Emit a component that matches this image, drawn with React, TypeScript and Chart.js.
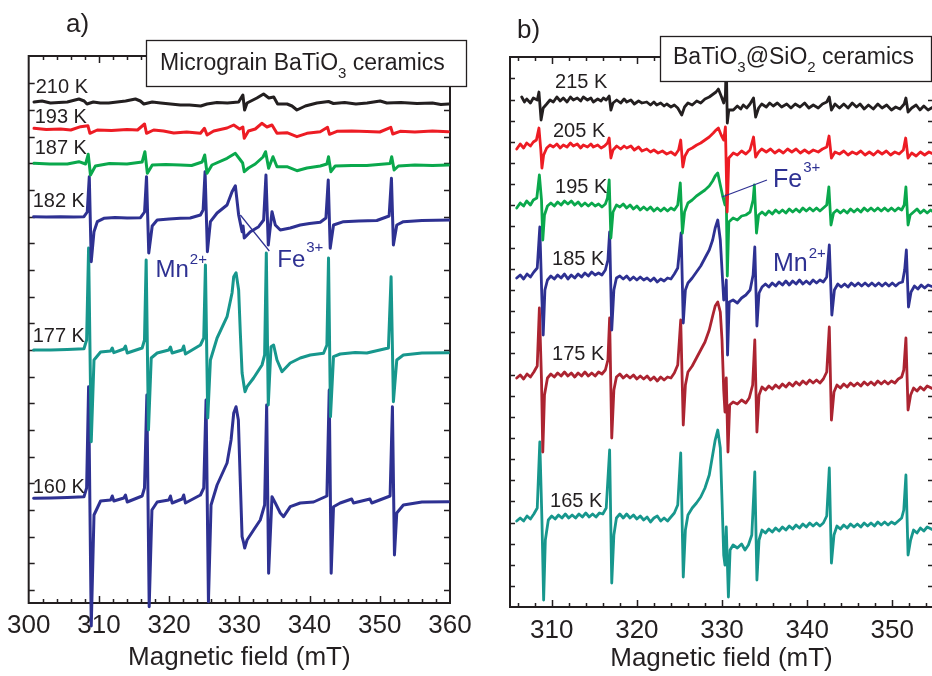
import React, { useEffect, useRef } from "react";
import { Chart, registerables } from "chart.js";

Chart.register(...registerables);

const FONT = '"Liberation Sans", Arial, Helvetica, sans-serif';
const INK = "#231f20";
const ION = "#2e3192";

// ---------------- Panel a) Micrograin BaTiO3 ceramics ----------------
const aXTicks = [300, 310, 320, 330, 340, 350, 360];
const aTemps = ["210 K", "193 K", "187 K", "182 K", "177 K", "160 K"];
const aColors = ["#231f20", "#ed1c24", "#0aa84c", "#2e3192", "#17978d", "#2e3192"];

// flat lists: field (mT), intensity (a.u., offset included)
const a210K = [300.76,501, 301.9,502, 303.1,500, 304.3,500.5, 305.5,501, 307.15,504, 307.9,502, 308.3,499, 309.2,501, 310.2,500, 311.4,500, 312.6,501, 313.8,502, 315.2,504, 315.9,502, 316.4,499, 317.6,501, 318.8,500, 320.2,499, 321.6,498, 322.9,498, 324.5,497, 325.4,499, 326.8,500.5, 328.3,500, 329.9,501, 330.5,508, 330.75,493, 331.1,500, 332.5,505, 333.45,509, 334.2,505, 334.9,506, 335.45,499, 336.8,499, 337.5,497, 338.2,493, 339.4,497, 341.05,500, 342.7,501.5, 343.4,499.5, 345,500.5, 346.6,499, 348.2,500, 350.05,502, 351.0,500, 353,500.5, 355.3,499.5, 357.5,500, 358.7,498.5, 359.8,499];
const a193K = [300.76,474.7, 302.5,473.5, 304.55,474, 306.0,473, 307.4,476.3, 308.43,477.3, 308.72,469.7, 309.77,473, 311.8,472.5, 314.0,473.5, 315.5,473, 316.5,479, 316.78,469.7, 317.8,473, 319.2,472, 320.66,470, 322.5,471, 324.46,469.7, 325.03,474.7, 325.4,468, 326.35,472, 328.25,475, 329.2,478, 330.04,474, 330.5,476, 330.7,464.7, 331.3,472, 332.27,474, 333.2,479.7, 333.93,476, 334.65,478, 335.36,469.7, 336.78,470.3, 338.2,466.3, 339.63,469.7, 341.52,471.3, 342.56,475.7, 342.84,468.7, 343.9,471.7, 346,472, 348.16,471.5, 350,471, 351.57,475.7, 351.85,469, 352.9,471.7, 355,471, 357.5,472, 359.76,471.3];
const a187K = [300.76,439.7, 303.0,439, 305.5,439, 307.15,441.3, 308.1,439, 308.48,448.7, 308.8,428, 309.5,437, 311.5,439.5, 314.0,439, 316.16,441, 316.55,451.3, 316.9,429.7, 317.6,438, 319.5,438.5, 321.6,438, 323.2,437.5, 324.7,441, 325.07,448, 325.4,429.7, 326.1,438, 328.25,444.7, 329.43,449.7, 330.15,443, 330.47,440, 330.7,431.3, 331.3,435, 332.27,439, 333.37,446, 333.74,451.3, 334.17,434.7, 334.79,446.3, 335.36,436.3, 336.78,436.3, 338.2,432.3, 339.63,435, 341.52,437, 342.47,439, 342.7,446.3, 343.04,431.3, 343.65,437, 346,437.5, 348.16,437.5, 351.47,439.5, 351.7,446.3, 352.04,433, 352.65,437, 355,438, 357.5,437.5, 359.76,438];
const a182K = [300.7,386.3, 302.5,386, 304.55,386.3, 306.44,386, 307.87,386.3, 308.34,391, 308.63,426.3, 308.91,341.3, 309.3,371.3, 309.77,381.3, 310.7,384.7, 312.3,385.5, 314.03,385, 315.92,385.3, 316.5,391, 316.78,426.3, 317.1,350, 317.59,377, 318.3,383, 320,384, 321.6,384.7, 323,385, 324.46,388, 324.84,393, 325.12,431.3, 325.45,351.3, 325.88,381.3, 326.83,390, 328.25,398, 328.96,411.3, 329.43,417.3, 329.9,388, 330.39,371.3, 330.53,377, 330.7,365, 331.57,371.3, 332.75,376.3, 333.46,383, 333.79,428, 334.12,358, 334.65,391.3, 335.12,378, 335.83,373, 337.25,375, 338.67,378, 340,379.5, 341.52,380.7, 342.33,385, 342.66,423, 342.94,354.7, 343.41,378, 344.83,381.3, 347,382, 349.58,382.5, 351.33,387, 351.66,424.7, 351.94,358, 352.42,378, 353.36,381.3, 356,382.5, 360,383];
const a177K = [300.7,253, 303.13,253, 305.5,253.5, 307.87,254.3, 308.25,263, 308.53,355, 308.91,161.3, 309.3,243, 310.24,251, 311.66,252, 311.9,255, 312.13,250.3, 313.55,254, 313.79,257, 314.03,250, 316.16,255, 316.49,263, 316.73,343, 317.06,173, 317.45,245, 318.3,250, 319.95,253, 320.19,256, 320.43,250, 321.85,253, 322.08,257, 322.32,249, 324.46,258, 324.93,265, 325.17,338, 325.5,185, 325.88,243, 326.83,265, 328.25,286.3, 328.96,310, 329.2,326.3, 329.53,330.3, 329.9,313, 330.14,270, 330.39,230, 330.67,217, 330.81,211.3, 331.1,216.3, 332.03,225, 333.23,238, 333.6,248, 333.84,350, 334.12,198, 334.51,256.3, 334.88,258, 335.36,243, 336.07,231.3, 337.25,240, 338.67,245, 340.1,248, 341.99,249.7, 342.47,258, 342.7,345, 342.98,186.3, 343.41,246.3, 344.36,249, 346.5,250.5, 348.16,250, 351.23,255, 351.61,326.3, 351.94,201.3, 352.42,243, 353.36,248, 356,250, 359.76,250.3];
const a160K = [300.7,104.7, 303.13,105, 305.5,105.5, 307.87,106.3, 308.25,115, 308.53,216.3, 308.91,-23, 309.3,88, 310.24,102, 311.66,103, 311.9,107, 312.13,102, 313.55,105, 313.79,108, 314.03,101, 316.16,107, 316.49,115, 316.83,208, 317.16,-3.7, 317.55,93, 318.3,101, 319.95,103, 320.19,107, 320.43,100, 321.85,104, 322.08,108, 322.32,100, 324.46,108, 324.93,115, 325.26,203, 325.6,1.3, 325.97,98, 326.83,118, 328.25,140, 328.82,163, 329.2,190, 329.53,196.3, 329.86,183, 330.14,120, 330.39,66.3, 330.62,60, 330.76,55, 331.1,63, 332.03,73, 332.98,83, 333.6,98, 333.89,198, 334.17,29.7, 334.65,106.3, 335.12,100, 335.83,90, 336.3,86.3, 337.25,96.3, 338.67,100, 340.57,101, 342.47,107, 342.8,213, 343.08,29.7, 343.41,96.3, 344.36,100, 346.0,104, 346.26,100, 348.6,104, 348.86,100, 351.47,107, 351.8,196.3, 352.09,48, 352.42,90, 353.36,98, 356,101, 359.76,101.3];

// ---------------- Panel b) BaTiO3@SiO2 ceramics ----------------
const bXTicks = [310, 320, 330, 340, 350];
const bTemps = ["215 K", "205 K", "195 K", "185 K", "175 K", "165 K"];
const bColors = ["#231f20", "#ed1c24", "#0aa84c", "#2e3192", "#ac2431", "#17978d"];

const b215K = [306.48,510, 306.8,505, 307.06,508, 307.5,504, 307.84,509, 308.31,507, 308.5,515, 308.75,487, 309.0,499, 309.41,503, 309.8,507, 310.19,505, 310.6,510, 311.0,506, 311.36,509, 311.8,505, 312.2,510, 312.54,507, 313.0,509, 313.4,506, 313.71,510, 314.2,507, 314.6,509, 314.89,505, 315.4,508, 315.8,506, 316.06,509, 316.4,507, 316.75,511, 316.95,497, 317.2,504, 317.63,507, 318.1,504, 318.5,508, 318.81,505, 319.3,507, 319.7,503, 320.2,506, 320.6,504, 321.16,505, 321.6,502, 322.0,505, 322.33,502, 322.8,504, 323.2,501, 323.51,503, 324.0,500, 324.4,502, 324.8,499, 325.27,492, 325.6,500, 326.0,504, 326.5,502, 327.03,506, 327.5,504, 328.0,508, 328.5,510, 328.98,513, 329.3,515, 329.57,518, 329.9,511, 330.2,504, 330.4,512, 330.5,547, 330.62,484, 330.8,497, 331.33,497, 331.8,501, 332.2,498, 332.5,502, 332.9,499, 333.29,503, 333.7,509, 333.95,490, 334.3,499, 334.66,503, 335.2,500, 335.6,504, 336.02,501, 336.5,504, 337.0,500, 337.6,503, 338.1,499, 338.6,503, 339.16,500, 339.7,504, 340.2,499, 340.72,502, 341.3,499, 341.8,503, 342.3,505, 342.6,510, 342.85,497, 343.27,503, 343.8,499, 344.3,503, 344.8,499, 345.3,504, 345.8,500, 346.21,503, 346.7,498, 347.2,502, 347.77,498, 348.3,503, 348.8,499, 349.34,502, 349.9,497, 350.4,500, 350.9,498, 351.4,503, 351.6,509, 351.85,495, 352.28,499, 352.8,502, 353.25,497, 353.7,501, 354.2,497, 354.8,500];
const b205K = [305.89,458, 306.3,463, 306.7,459, 307.06,464, 307.5,461, 307.84,465, 308.2,467, 308.5,479, 308.72,457, 308.85,439, 309.05,452, 309.41,459, 309.8,462, 310.19,460, 310.6,463, 311.0,459, 311.36,462, 311.8,460, 312.2,464, 312.54,461, 313.0,463, 313.4,459, 313.71,462, 314.2,460, 314.6,463, 314.89,460, 315.4,462, 315.8,459, 316.2,461, 316.55,464, 316.75,469, 316.95,449, 317.2,457, 317.63,461, 318.1,458, 318.5,461, 318.81,459, 319.3,461, 319.7,457, 320.2,460, 320.6,456, 321.16,458, 321.6,455, 322.0,457, 322.5,454, 323.0,456, 323.5,453, 324.0,455, 324.5,452, 324.9,457, 325.15,467, 325.4,440, 325.65,451, 326.04,457, 326.5,459, 327.03,462, 327.5,464, 328.0,467, 328.5,470, 328.98,474, 329.3,477, 329.57,479, 329.9,472, 330.2,467, 330.4,480, 330.6,395, 330.8,449, 331.33,454, 331.8,452, 332.3,456, 332.8,453, 333.29,457, 333.7,470, 333.95,450, 334.3,455, 334.66,458, 335.2,455, 335.7,458, 336.2,454, 336.7,457, 337.2,454, 337.7,458, 338.2,455, 338.7,458, 339.2,454, 339.7,457, 340.2,454, 340.72,457, 341.3,455, 341.8,458, 342.3,460, 342.57,471, 342.85,449, 343.27,455, 343.8,453, 344.3,456, 344.8,452, 345.3,455, 345.8,453, 346.3,456, 346.8,452, 347.3,455, 347.8,452, 348.3,456, 348.8,453, 349.3,456, 349.8,452, 350.3,455, 350.8,453, 351.3,457, 351.57,469, 351.85,449, 352.28,454, 352.8,451, 353.3,455, 353.8,452, 354.3,455, 354.8,453];
const b195K = [305.89,399, 306.3,404, 306.7,401, 307.06,406, 307.5,402, 307.84,407, 308.25,409, 308.55,432, 308.8,407, 308.95,367, 309.15,392, 309.5,401, 309.9,404, 310.3,401, 310.7,405, 311.1,402, 311.5,406, 311.9,403, 312.3,406, 312.7,402, 313.1,405, 313.5,401, 313.9,404, 314.3,401, 314.7,404, 315.1,401, 315.5,403, 315.9,400, 316.3,403, 316.55,409, 316.75,427, 316.95,369, 317.2,395, 317.6,402, 318.0,400, 318.4,403, 318.8,399, 319.2,402, 319.6,398, 320.0,401, 320.4,397, 320.8,400, 321.2,397, 321.6,400, 322.0,396, 322.4,399, 322.8,396, 323.2,399, 323.6,396, 324.0,399, 324.4,397, 324.8,402, 325.1,424, 325.35,374, 325.6,395, 326.0,404, 326.5,407, 327.0,411, 327.5,414, 328.0,417, 328.5,421, 328.9,426, 329.2,431, 329.5,434, 329.8,422, 330.1,410, 330.35,402, 330.5,412, 330.62,331, 330.8,385, 331.3,389, 331.8,387, 332.3,391, 332.8,392, 333.3,395, 333.65,407, 333.8,422, 334.05,374, 334.3,392, 334.7,395, 335.1,392, 335.5,396, 335.9,393, 336.3,397, 336.7,394, 337.1,397, 337.5,394, 337.9,398, 338.3,395, 338.7,398, 339.1,395, 339.5,399, 339.9,396, 340.3,399, 340.7,396, 341.1,399, 341.5,396, 341.9,399, 342.3,402, 342.55,420, 342.8,382, 343.1,394, 343.5,397, 343.9,394, 344.3,397, 344.7,394, 345.1,398, 345.5,395, 345.9,398, 346.3,395, 346.7,399, 347.1,396, 347.5,399, 347.9,396, 348.3,399, 348.7,396, 349.1,399, 349.5,396, 349.9,399, 350.3,396, 350.7,399, 351.1,397, 351.4,402, 351.6,420, 351.85,382, 352.1,392, 352.5,395, 352.9,398, 353.3,394, 353.7,397, 354.1,394, 354.5,397, 354.8,395];
const b185K = [305.89,329, 306.3,332, 306.7,328, 307.1,333, 307.5,330, 307.9,335, 308.3,339, 308.6,380, 308.85,307, 309.0,272, 309.2,317, 309.5,327, 309.9,331, 310.3,328, 310.7,332, 311.1,329, 311.5,333, 311.9,328, 312.3,332, 312.7,329, 313.1,333, 313.5,330, 313.9,334, 314.3,331, 314.7,335, 315.1,332, 315.5,334, 315.9,332, 316.3,337, 316.6,347, 316.8,375, 317.05,277, 317.3,317, 317.6,329, 318.0,331, 318.4,328, 318.8,331, 319.2,327, 319.6,330, 320.0,327, 320.4,330, 320.8,327, 321.2,329, 321.6,326, 322.0,329, 322.4,325, 322.8,328, 323.2,326, 323.6,329, 324.0,328, 324.4,333, 324.8,339, 325.2,374, 325.45,284, 325.7,317, 326.0,324, 326.5,329, 327.0,335, 327.5,341, 328.0,349, 328.5,357, 328.9,367, 329.2,379, 329.5,387, 329.8,367, 330.0,337, 330.2,307, 330.4,312, 330.5,327, 330.65,252, 330.85,305, 331.3,307, 331.8,304, 332.3,309, 332.8,312, 333.3,317, 333.65,332, 333.85,360, 334.1,281, 334.35,314, 334.7,320, 335.1,323, 335.5,320, 335.9,324, 336.3,321, 336.7,325, 337.1,322, 337.5,326, 337.9,322, 338.3,326, 338.7,323, 339.1,327, 339.5,323, 339.9,326, 340.3,323, 340.7,327, 341.1,324, 341.5,327, 341.9,325, 342.3,330, 342.6,362, 342.9,292, 343.2,317, 343.6,323, 344.0,320, 344.4,323, 344.8,320, 345.2,324, 345.6,321, 346.0,324, 346.4,321, 346.8,324, 347.2,321, 347.6,324, 348.0,321, 348.4,324, 348.8,321, 349.2,324, 349.6,321, 350.0,324, 350.4,321, 350.8,324, 351.2,325, 351.45,337, 351.65,357, 351.9,300, 352.2,315, 352.6,321, 353.0,318, 353.4,322, 353.8,319, 354.2,322, 354.8,320];
const b175K = [305.89,229, 306.3,232, 306.7,228, 307.1,233, 307.5,230, 307.9,235, 308.3,241, 308.55,299, 308.8,227, 308.95,155, 309.15,212, 309.5,229, 309.9,233, 310.3,230, 310.7,234, 311.1,231, 311.5,235, 311.9,231, 312.3,234, 312.7,230, 313.1,234, 313.5,231, 313.9,235, 314.3,231, 314.7,234, 315.1,231, 315.5,235, 315.9,233, 316.3,237, 316.6,247, 316.8,289, 317.05,169, 317.3,217, 317.6,230, 318.0,233, 318.4,229, 318.8,232, 319.2,229, 319.6,232, 320.0,228, 320.4,231, 320.8,228, 321.2,231, 321.6,227, 322.0,230, 322.4,226, 322.8,230, 323.2,227, 323.6,230, 324.0,229, 324.4,234, 324.8,242, 325.15,287, 325.45,182, 325.7,222, 326.0,235, 326.5,241, 327.0,249, 327.5,257, 328.0,265, 328.5,277, 328.9,291, 329.2,301, 329.5,305, 329.8,295, 330.0,267, 330.2,217, 330.35,195, 330.5,229, 330.7,155, 330.9,202, 331.3,205, 331.8,203, 332.3,207, 332.8,204, 333.2,209, 333.6,222, 333.85,267, 334.1,175, 334.35,212, 334.7,220, 335.1,217, 335.5,221, 335.9,218, 336.3,222, 336.7,219, 337.1,223, 337.5,220, 337.9,224, 338.3,221, 338.7,225, 339.1,222, 339.5,226, 339.9,223, 340.3,227, 340.7,224, 341.1,227, 341.5,224, 341.9,228, 342.3,235, 342.6,280, 342.85,187, 343.15,215, 343.5,222, 343.9,219, 344.3,223, 344.7,220, 345.1,224, 345.5,221, 345.9,224, 346.3,221, 346.7,225, 347.1,222, 347.5,225, 347.9,222, 348.3,226, 348.7,223, 349.1,226, 349.5,223, 349.9,226, 350.3,224, 350.7,228, 351.1,230, 351.35,237, 351.6,269, 351.85,197, 352.15,212, 352.5,219, 352.9,216, 353.3,220, 353.7,217, 354.1,221, 354.8,218];
const b165K = [305.89,86, 306.3,89, 306.7,86, 307.1,91, 307.5,88, 307.9,93, 308.3,99, 308.6,165, 308.85,87, 309.05,7, 309.25,67, 309.6,87, 310.0,91, 310.4,88, 310.8,92, 311.2,89, 311.6,93, 312.0,89, 312.4,92, 312.8,89, 313.2,93, 313.6,90, 314.0,94, 314.4,90, 314.8,93, 315.2,90, 315.6,94, 316.0,93, 316.4,99, 316.8,157, 317.05,24, 317.3,72, 317.6,89, 318.0,93, 318.4,89, 318.8,93, 319.2,89, 319.6,92, 320.0,88, 320.4,91, 320.8,87, 321.2,90, 321.6,85, 322.0,89, 322.4,91, 322.8,86, 323.2,89, 323.6,86, 324.0,90, 324.4,94, 324.8,102, 325.15,154, 325.45,30, 325.7,77, 326.0,92, 326.5,99, 327.0,104, 327.5,110, 328.0,119, 328.5,132, 328.9,152, 329.2,167, 329.5,177, 329.8,159, 330.0,107, 330.2,52, 330.35,42, 330.5,80, 330.75,10, 330.95,57, 331.3,62, 331.8,59, 332.3,63, 332.7,57, 333.1,62, 333.5,72, 333.85,135, 334.1,27, 334.35,67, 334.7,77, 335.1,74, 335.5,78, 335.9,75, 336.3,79, 336.7,76, 337.1,80, 337.5,77, 337.9,81, 338.3,78, 338.7,82, 339.1,79, 339.5,83, 339.9,80, 340.3,84, 340.7,81, 341.1,84, 341.5,81, 341.9,84, 342.3,91, 342.6,139, 342.85,44, 343.15,72, 343.5,81, 343.9,78, 344.3,82, 344.7,79, 345.1,83, 345.5,80, 345.9,83, 346.3,80, 346.7,84, 347.1,81, 347.5,84, 347.9,81, 348.3,85, 348.7,82, 349.1,85, 349.5,82, 349.9,85, 350.3,83, 350.7,86, 351.1,89, 351.35,97, 351.6,132, 351.85,52, 352.15,67, 352.5,77, 352.9,74, 353.3,79, 353.7,76, 354.1,80, 354.8,77];

const aSeries = [a210K, a193K, a187K, a182K, a177K, a160K];
const bSeries = [b215K, b205K, b195K, b185K, b175K, b165K];

// label anchors in data coordinates (field mT, intensity a.u.)
const aTempAt = [[301.0, 510], [300.85, 480], [300.85, 449], [300.57, 396], [300.57, 261], [300.57, 110]];
const bTempAt = [[310.39, 519], [310.15, 470], [310.39, 414], [310.04, 342], [310.04, 247], [309.8, 100]];

const toPts = (flat: number[]) => {
  const out: { x: number; y: number }[] = [];
  for (let i = 0; i < flat.length; i += 2) out.push({ x: flat[i], y: flat[i + 1] });
  return out;
};

const range = (a: number, b: number, s: number) => {
  const r: number[] = [];
  for (let v = a; v <= b + 1e-9; v += s) r.push(Math.round(v * 1000) / 1000);
  return r;
};

const PANELS = {
  a: {
    left: 0, width: 480,
    pad: { left: 28, right: 30, top: 56, bottom: 0 },
    axisH: 73, xMin: 300, xMax: 360, yMax: 547,
    xTicks: aXTicks, xMinor: range(302, 358, 2), yTicks: range(13, 540, 26.667),
    yLen: 6, tickPad: 7, titlePad: 3, lw: 3,
    series: aSeries, colors: aColors, temps: aTemps, tempAt: aTempAt, noClip: [5],
    ions: [
      { main: "Mn", sup: "2+", at: [318.06, 326], size: 24, supSize: 15, rise: 13 },
      { main: "Fe", sup: "3+", at: [335.4, 336], size: 24, supSize: 15, rise: 15 },
    ],
    pointer: [[334.27, 352], [330.14, 388]],
    box: { x: 146, y: 40, w: 320, h: 46, tx: 160, ty: 69.5, segs: [["Micrograin BaTiO", 0], ["3", 1], [" ceramics", 0]] },
    letter: { text: "a)", x: 66, y: 32 },
  },
  b: {
    left: 480, width: 460,
    pad: { left: 30, right: 7, top: 57, bottom: 0 },
    axisH: 69, xMin: 305.1, xMax: 354.78, yMax: 550,
    xTicks: bXTicks, xMinor: range(306, 354, 2), yTicks: range(21, 530, 21.15),
    yLen: 5, tickPad: 8, titlePad: 2, lw: 2.8,
    series: bSeries, colors: bColors, temps: bTemps, tempAt: bTempAt, noClip: [],
    ions: [
      { main: "Mn", sup: "2+", at: [335.99, 336], size: 25, supSize: 15, rise: 13 },
      { main: "Fe", sup: "3+", at: [335.99, 420], size: 25, supSize: 15, rise: 15 },
    ],
    pointer: [[335.28, 427], [330.0, 410]],
    box: { x: 180, y: 36, w: 271, h: 45, tx: 193, ty: 63.5, segs: [["BaTiO", 0], ["3", 1], ["@SiO", 0], ["2", 1], [" ceramics", 0]] },
    letter: { text: "b)", x: 37, y: 38 },
  },
};

function framePlugin(p: any) {
  return {
    id: "frame",
    beforeDatasetsDraw(chart: any) {
      const { ctx, chartArea: a, scales } = chart;
      const x = scales.x, y = scales.y;
      ctx.save();
      ctx.strokeStyle = INK;
      ctx.lineWidth = 2;
      ctx.strokeRect(a.left, a.top, a.right - a.left, a.bottom - a.top);
      ctx.lineWidth = 1.5;
      ctx.beginPath();
      for (const v of p.xMinor) {
        const px = Math.round(x.getPixelForValue(v)) + 0.5;
        const len = v % 10 === 0 ? 7 : 4;
        ctx.moveTo(px, a.bottom);
        ctx.lineTo(px, a.bottom - len);
        ctx.moveTo(px, a.top);
        ctx.lineTo(px, a.top + len);
      }
      for (const v of p.yTicks) {
        const py = Math.round(y.getPixelForValue(v)) + 0.5;
        ctx.moveTo(a.left, py);
        ctx.lineTo(a.left + p.yLen, py);
        ctx.moveTo(a.right, py);
        ctx.lineTo(a.right - p.yLen, py);
      }
      ctx.stroke();
      ctx.restore();
    },
  };
}

function overlayPlugin(p: any) {
  return {
    id: "overlay",
    afterDraw(chart: any) {
      const { ctx, scales } = chart;
      const x = scales.x, y = scales.y;
      const X = (v: number) => x.getPixelForValue(v);
      const Y = (v: number) => y.getPixelForValue(v);
      ctx.save();
      ctx.textAlign = "left";
      ctx.textBaseline = "alphabetic";
      // pointer line to Fe3+ signal
      ctx.strokeStyle = ION;
      ctx.lineWidth = 1.2;
      ctx.beginPath();
      ctx.moveTo(X(p.pointer[0][0]), Y(p.pointer[0][1]));
      ctx.lineTo(X(p.pointer[1][0]), Y(p.pointer[1][1]));
      ctx.stroke();
      // temperature labels
      ctx.fillStyle = INK;
      ctx.font = `20px ${FONT}`;
      p.temps.forEach((t: string, i: number) => {
        ctx.fillText(t, X(p.tempAt[i][0]), Y(p.tempAt[i][1]));
      });
      // ion labels
      ctx.fillStyle = ION;
      for (const ion of p.ions) {
        const px = X(ion.at[0]);
        const py = Y(ion.at[1]);
        ctx.font = `${ion.size}px ${FONT}`;
        ctx.fillText(ion.main, px, py);
        const w = ctx.measureText(ion.main).width;
        ctx.font = `${ion.supSize}px ${FONT}`;
        ctx.fillText(ion.sup, px + w + 1, py - ion.rise);
      }
      // title box
      const b = p.box;
      ctx.fillStyle = "#ffffff";
      ctx.fillRect(b.x, b.y, b.w, b.h);
      ctx.strokeStyle = INK;
      ctx.lineWidth = 1.3;
      ctx.strokeRect(b.x + 0.5, b.y + 0.5, b.w, b.h);
      ctx.fillStyle = INK;
      let cx = b.tx;
      for (const [t, sub] of b.segs) {
        ctx.font = sub ? `15px ${FONT}` : `23px ${FONT}`;
        ctx.fillText(t, cx, sub ? b.ty + 8 : b.ty);
        cx += ctx.measureText(t).width;
      }
      // panel letter
      ctx.font = `26px ${FONT}`;
      ctx.fillText(p.letter.text, p.letter.x, p.letter.y);
      ctx.restore();
    },
  };
}

function makeConfig(p: any): any {
  return {
    type: "line",
    data: {
      datasets: p.series.map((s: number[], i: number) => {
        const ds: any = {
          data: toPts(s),
          borderColor: p.colors[i],
          backgroundColor: p.colors[i],
          borderWidth: p.lw,
          pointRadius: 0,
          pointHitRadius: 0,
          tension: 0,
          fill: false,
          borderJoinStyle: "round",
          borderCapStyle: "round",
        };
        if (p.noClip.includes(i)) ds.clip = false;
        return ds;
      }),
    },
    options: {
      responsive: false,
      maintainAspectRatio: false,
      animation: false,
      events: [],
      layout: { padding: p.pad },
      plugins: { legend: { display: false }, tooltip: { enabled: false }, title: { display: false } },
      scales: {
        x: {
          type: "linear",
          min: p.xMin,
          max: p.xMax,
          afterBuildTicks: (s: any) => {
            s.ticks = p.xTicks.map((v: number) => ({ value: v }));
          },
          afterFit: (s: any) => {
            s.height = p.axisH;
          },
          grid: { display: false, drawTicks: false },
          border: { display: false },
          ticks: {
            font: { family: FONT, size: 26 },
            color: INK,
            padding: p.tickPad,
            autoSkip: false,
            maxRotation: 0,
            minRotation: 0,
          },
          title: {
            display: true,
            text: "Magnetic field (mT)",
            font: { family: FONT, size: 26 },
            color: INK,
            padding: { top: 0, bottom: p.titlePad },
          },
        },
        y: { type: "linear", min: 0, max: p.yMax, display: false },
      },
    },
    plugins: [framePlugin(p), overlayPlugin(p)],
  };
}

function Panel({ p }: { p: any }) {
  const ref = useRef<HTMLCanvasElement | null>(null);
  useEffect(() => {
    if (!ref.current) return;
    const chart = new Chart(ref.current, makeConfig(p));
    return () => chart.destroy();
  }, [p]);
  return (
    <canvas
      ref={ref}
      width={p.width}
      height={676}
      style={{ position: "absolute", left: p.left, top: 0, width: p.width, height: 676 }}
    />
  );
}

export default function App() {
  return (
    <div
      style={{
        position: "fixed",
        left: 0,
        top: 0,
        width: 932,
        height: 676,
        overflow: "hidden",
        background: "#ffffff",
      }}
    >
      <Panel p={PANELS.a} />
      <Panel p={PANELS.b} />
    </div>
  );
}
